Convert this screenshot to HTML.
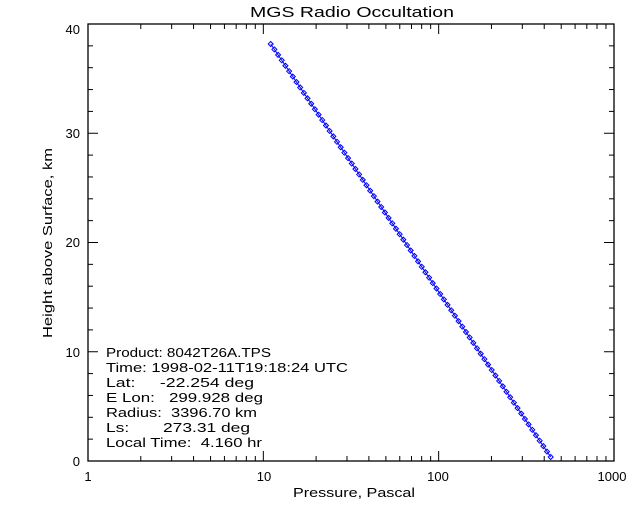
<!DOCTYPE html>
<html><head><style>
html,body{margin:0;padding:0;background:#fff;}
svg text{font-family:"Liberation Sans",sans-serif;font-size:13px;fill:#000;white-space:pre;}
</style></head><body>
<svg id="s" width="640" height="512" xmlns="http://www.w3.org/2000/svg" xml:space="preserve">
<rect width="640" height="512" fill="#fff"/>
<text x="250" y="17" textLength="204" lengthAdjust="spacingAndGlyphs" style="font-size:15px">MGS Radio Occultation</text>
<rect x="88" y="24" width="526" height="437" fill="none" stroke="#000" stroke-width="1.3"/>
<g id="ticks" stroke="#000" stroke-width="1"></g>
<text x="88" y="481" text-anchor="middle">1</text>
<text x="264" y="481" text-anchor="middle">10</text>
<text x="438" y="481" text-anchor="middle">100</text>
<text x="612" y="481" text-anchor="middle">1000</text>
<text x="293" y="497" textLength="122" lengthAdjust="spacingAndGlyphs">Pressure, Pascal</text>
<text x="80" y="466" text-anchor="end">0</text>
<text x="80" y="357" text-anchor="end">10</text>
<text x="80" y="247" text-anchor="end">20</text>
<text x="80" y="138" text-anchor="end">30</text>
<text x="80" y="34" text-anchor="end">40</text>
<text transform="translate(52,338) rotate(-90)" textLength="190" lengthAdjust="spacingAndGlyphs">Height above Surface, km</text>
<g>
<text x="106" y="357" textLength="165" lengthAdjust="spacingAndGlyphs">Product: 8042T26A.TPS</text>
<text x="106" y="372" textLength="242" lengthAdjust="spacingAndGlyphs">Time: 1998-02-11T19:18:24 UTC</text>
<text x="106" y="387" textLength="148" lengthAdjust="spacingAndGlyphs">Lat:     -22.254 deg</text>
<text x="106" y="402" textLength="157" lengthAdjust="spacingAndGlyphs">E Lon:   299.928 deg</text>
<text x="106" y="417" textLength="151" lengthAdjust="spacingAndGlyphs">Radius:  3396.70 km</text>
<text x="106" y="432" textLength="144" lengthAdjust="spacingAndGlyphs">Ls:       273.31 deg</text>
<text x="106" y="447" textLength="156" lengthAdjust="spacingAndGlyphs">Local Time:  4.160 hr</text>
</g>
<line x1="270.7" y1="44" x2="550.7" y2="457" stroke="#00f" stroke-width="1"/>
<g id="mk" fill="none" stroke="#00f" stroke-width="1"></g>
</svg>
<script>
var ns="http://www.w3.org/2000/svg",t=document.getElementById("ticks"),m=document.getElementById("mk");
function L(x1,y1,x2,y2){var l=document.createElementNS(ns,"line");l.setAttribute("x1",x1);l.setAttribute("y1",y1);l.setAttribute("x2",x2);l.setAttribute("y2",y2);t.appendChild(l);}
var dw=175.33;
for(var d=0;d<3;d++){for(var k=1;k<10;k++){var x=88+dw*(d+Math.log10(k));var len=(k==1)?10:5;if(k==1&&d==0)continue;L(x,461,x,461-len);L(x,24,x,24+len);}}
for(var h=0;h<=40;h+=2){var y=461-h*10.925;var len=(h%10==0)?10:5;L(88,y,88+len,y);L(614,y,614-len,y);}
for(var h=38.2;h>=0.1;h-=0.5){var f=(38.2-h)/38;var x=270.7+f*280,y=44+f*413;var p=document.createElementNS(ns,"path");p.setAttribute("d","M"+(x-2.5)+" "+y+"L"+x+" "+(y-2.5)+"L"+(x+2.5)+" "+y+"L"+x+" "+(y+2.5)+"Z");m.appendChild(p);}
</script>
</body></html>
